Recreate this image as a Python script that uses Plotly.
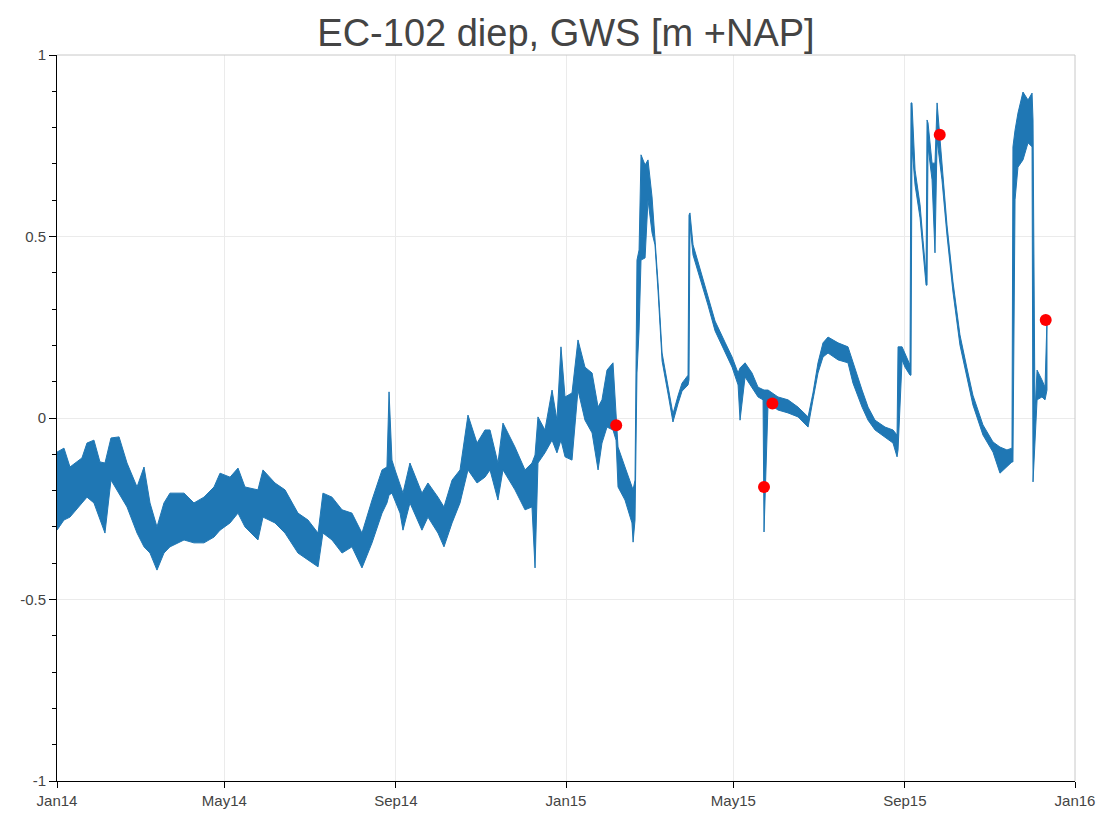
import pandas as pd
import plotly.graph_objects as go

# Day offsets from 2014-01-01 at which the envelope of the measured series was read
day_offsets = [
    0, 5.0, 9.3, 17.9, 21.5, 26.5, 30.8, 34.4, 38.7, 44.5, 50.2, 57.4, 62.4, 66.7, 71.7,
    76.7, 81.0, 91.1, 98.2, 105.4, 112.6, 116.9, 124.1, 129.8, 134.8, 144.1, 147.7, 156.3,
    163.5, 172.8, 180.0, 187.2, 190.7, 197.2, 204.4, 211.5, 218.7, 225.9, 233.1, 236.6,
    238.1, 240.2, 242.4, 246.0, 248.1, 253.1, 261.7, 266.0, 273.2, 277.5, 283.3, 289.0,
    294.7, 301.2, 306.9, 310.5, 316.2, 319.8, 328.4, 335.6, 340.6, 342.8, 344.9, 349.9,
    355.0, 358.5, 361.4, 364.3, 369.3, 373.6, 378.6, 383.7, 388.0, 390.8, 394.4, 398.7,
    400.9, 402.3, 407.3, 412.3, 413.1, 414.5, 415.9, 417.4, 418.8, 421.7, 423.8, 426.7,
    428.8, 431.0, 433.9, 438.2, 441.7, 445.3, 448.2, 452.5, 453.2, 453.9, 456.1, 459.7,
    466.8, 471.9, 479.0, 484.1, 488.4, 489.8, 493.4, 498.4, 502.7, 506.3, 507.0, 509.9,
    517.0, 524.2, 531.4, 538.6, 542.1, 545.7, 549.3, 552.9, 560.1, 567.2, 570.8, 577.3,
    581.6, 586.6, 593.8, 599.5, 602.4, 603.1, 606.0, 608.1, 611.7, 612.4, 613.1, 615.3,
    618.9, 621.0, 623.2, 623.9, 624.6, 627.5, 629.6, 631.1, 634.6, 638.2, 642.5, 647.5,
    652.5, 656.8, 664.0, 671.2, 676.2, 681.2, 684.8, 685.5, 687.0, 689.1, 692.7, 696.3,
    699.2, 699.9, 701.3, 702.8, 706.3, 708.5, 709.9,
]

# Upper edge of the (noisy) GWS record [m +NAP]
gws_upper = [
    -0.094, -0.083, -0.135, -0.110, -0.069, -0.061, -0.121, -0.124, -0.055, -0.052, -0.124,
    -0.190, -0.135, -0.234, -0.300, -0.234, -0.207, -0.207, -0.234, -0.218, -0.190, -0.152,
    -0.163, -0.138, -0.190, -0.198, -0.143, -0.179, -0.198, -0.262, -0.281, -0.317, -0.207,
    -0.218, -0.253, -0.262, -0.317, -0.226, -0.143, -0.135, 0.072, -0.116, -0.143, -0.185,
    -0.207, -0.124, -0.207, -0.179, -0.218, -0.245, -0.171, -0.143, 0.008, -0.069, -0.033,
    -0.033, -0.124, -0.014, -0.080, -0.143, -0.124, -0.102, 0.003, -0.033, 0.077, -0.006,
    0.196, 0.058, 0.069, 0.215, 0.140, 0.124, 0.030, 0.050, 0.132, 0.152, -0.006, -0.080,
    -0.135, -0.190, -0.198, -0.171, 0.435, 0.463, 0.725, 0.697, 0.711, 0.609, 0.504, 0.372,
    0.179, 0.088, 0.011, 0.061, 0.096, 0.118, 0.559, 0.565, 0.477, 0.430, 0.339, 0.267,
    0.209, 0.168, 0.124, 0.138, 0.152, 0.124, 0.085, 0.077, 0.077, 0.077, 0.058, 0.050,
    0.030, 0.003, 0.069, 0.152, 0.207, 0.223, 0.207, 0.196, 0.152, 0.077, 0.030, -0.006,
    -0.025, -0.033, -0.047, 0.196, 0.196, 0.179, 0.146, 0.868, 0.868, 0.683, 0.587, 0.490,
    0.394, 0.821, 0.813, 0.702, 0.702, 0.868, 0.702, 0.532, 0.375, 0.229, 0.138, 0.063,
    -0.019, -0.066, -0.080, -0.088, -0.083, 0.747, 0.793, 0.840, 0.898, 0.876, 0.895, 0.821,
    0.014, 0.132, 0.105, 0.085, 0.270,
]

# Lower edge of the (noisy) GWS record [m +NAP]
gws_lower = [
    -0.309, -0.281, -0.273, -0.234, -0.218, -0.234, -0.281, -0.317, -0.171, -0.207, -0.245,
    -0.317, -0.355, -0.372, -0.419, -0.372, -0.355, -0.336, -0.344, -0.344, -0.328, -0.309,
    -0.289, -0.262, -0.300, -0.336, -0.273, -0.289, -0.317, -0.372, -0.391, -0.410, -0.317,
    -0.336, -0.372, -0.355, -0.413, -0.344, -0.262, -0.234, -0.212, -0.207, -0.226, -0.262,
    -0.309, -0.234, -0.309, -0.273, -0.317, -0.355, -0.289, -0.234, -0.143, -0.179, -0.163,
    -0.143, -0.226, -0.143, -0.198, -0.253, -0.245, -0.413, -0.124, -0.096, -0.061, -0.096,
    -0.061, -0.107, -0.116, 0.077, -0.006, -0.041, -0.143, -0.069, -0.025, -0.033, -0.061,
    -0.190, -0.226, -0.289, -0.342, -0.281, 0.124, 0.242, 0.435, 0.441, 0.601, 0.510, 0.477,
    0.350, 0.157, 0.066, -0.011, 0.039, 0.074, 0.091, 0.105, 0.532, 0.449, 0.402, 0.311,
    0.240, 0.182, 0.140, 0.091, -0.006, 0.113, 0.085, 0.058, 0.050, -0.314, 0.041, 0.022,
    0.014, 0.003, -0.025, 0.050, 0.124, 0.168, 0.179, 0.160, 0.152, 0.096, 0.030, -0.006,
    -0.033, -0.052, -0.069, -0.107, -0.088, 0.160, 0.140, 0.118, 0.118, 0.747, 0.642, 0.551,
    0.457, 0.366, 0.366, 0.747, 0.656, 0.455, 0.766, 0.656, 0.504, 0.347, 0.201, 0.110,
    0.036, -0.047, -0.094, -0.152, -0.135, -0.121, -0.121, 0.601, 0.691, 0.711, 0.758, 0.747,
    -0.176, -0.061, 0.050, 0.058, 0.050, 0.077,
]

# Manual (hand) measurements, red dots
hand_dates = ["2015-02-06", "2015-05-23", "2015-05-29", "2015-09-26", "2015-12-11"]
hand_values = [-0.02, -0.19, 0.04, 0.78, 0.27]

tick_dates = ["2014-01-01", "2014-05-01", "2014-09-01", "2015-01-01",
              "2015-05-01", "2015-09-01", "2016-01-01"]
tick_labels = ["Jan14", "May14", "Sep14", "Jan15", "May15", "Sep15", "Jan16"]

start = pd.Timestamp("2014-01-01")
dates = [start + pd.Timedelta(days=d) for d in day_offsets]

poly_x = dates + dates[::-1]
poly_y = gws_upper + gws_lower[::-1]

BLUE = "#1f77b4"
FIG_W, FIG_H = 1104, 808  # page body has an 8px margin

fig = go.Figure()
fig.add_trace(go.Scatter(
    x=poly_x, y=poly_y, mode="lines", fill="toself",
    fillcolor=BLUE, line=dict(color=BLUE, width=1),
    hoverinfo="skip", showlegend=False,
))
fig.add_trace(go.Scatter(
    x=hand_dates, y=hand_values, mode="markers",
    marker=dict(color="#ff0000", size=12, line=dict(width=0)),
    showlegend=False,
))

axis_font = dict(family="Liberation Sans, Arial, sans-serif", size=15, color="#444444")

fig.update_layout(
    width=FIG_W, height=FIG_H,
    margin=dict(l=49, r=37, t=47, b=35, autoexpand=False),
    paper_bgcolor="white", plot_bgcolor="white",
    title=dict(
        text="EC-102 diep, GWS [m +NAP]",
        x=(49 + (FIG_W - 37)) / 2 / FIG_W, xanchor="center",
        y=1 - 25 / FIG_H, yanchor="middle",
        font=dict(family="Liberation Sans, Arial, sans-serif", size=38, color="#444444"),
    ),
    xaxis=dict(
        range=["2014-01-01", "2016-01-01"],
        tickvals=tick_dates, ticktext=tick_labels,
        ticks="outside", ticklen=6, tickcolor="black",
        showline=True, linecolor="black", linewidth=1,
        showgrid=True, gridcolor="#ebebeb", gridwidth=1,
        zeroline=False, tickfont=axis_font,
    ),
    yaxis=dict(
        range=[-1, 1],
        tickvals=[-1, -0.5, 0, 0.5, 1],
        ticktext=["-1", "-0.5", "0", "0.5", "1"],
        ticks="outside", ticklen=7, tickcolor="black",
        showline=True, linecolor="black", linewidth=1,
        showgrid=True, gridcolor="#ebebeb", gridwidth=1,
        zeroline=False, tickfont=axis_font,
        minor=dict(dtick=0.1, tick0=0, ticks="outside", ticklen=4,
                   tickcolor="black", showgrid=False),
    ),
    shapes=[
        dict(type="line", xref="paper", yref="paper", x0=0, x1=1, y0=1, y1=1,
             line=dict(color="#c8c8c8", width=1)),
        dict(type="line", xref="paper", yref="paper", x0=1, x1=1, y0=0, y1=1,
             line=dict(color="#c8c8c8", width=1)),
    ],
)

fig.write_html("out.html")
